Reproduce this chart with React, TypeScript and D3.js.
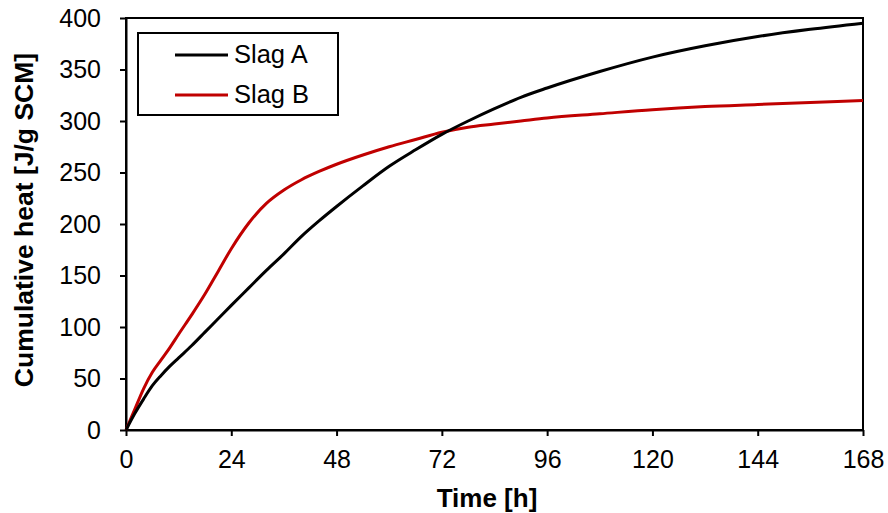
import { useEffect, useRef } from "react";
import * as d3 from "d3";

// time in hours
const time = [0, 2, 4, 6, 8, 10, 12, 15, 18, 21, 24, 28, 32, 36, 40, 44, 48, 54, 60, 66, 72, 78, 84, 90, 96, 108, 120, 132, 144, 156, 168];
const slagA = [0, 16, 30, 43, 53, 62, 70, 82, 95, 108, 121, 138, 155, 171, 188, 203, 217, 237, 256, 272, 287, 300, 312, 323, 332, 348, 362, 373, 382, 389, 395];
const slagB = [0, 20, 40, 56, 68, 80, 93, 112, 132, 154, 176, 201, 220, 233, 243, 251, 258, 267, 275, 282, 289, 294, 297, 300, 303, 307, 311, 314, 316, 318, 320];
const xTicks = [0, 24, 48, 72, 96, 120, 144, 168];
const yTicks = [0, 50, 100, 150, 200, 250, 300, 350, 400];
const seriesNames = ["Slag A", "Slag B"];
const seriesColors = ["#000000", "#c00000"];

export default function App() {
  const ref = useRef<SVGSVGElement>(null);

  useEffect(() => {
    const svg = d3.select(ref.current);
    svg.selectAll("*").remove();

    const left = 126, right = 863, top = 18, bottom = 430;
    const font = "'Liberation Sans', Arial, sans-serif";

    const x = d3.scaleLinear().domain([0, 168]).range([left, right]);
    const y = d3.scaleLinear().domain([0, 400]).range([bottom, top]);

    // frame
    svg.append("rect")
      .attr("x", left).attr("y", top)
      .attr("width", right - left).attr("height", bottom - top)
      .attr("fill", "none").attr("stroke", "#000").attr("stroke-width", 2);

    // x axis
    const gx = svg.append("g")
      .attr("transform", `translate(0,${bottom})`)
      .call(d3.axisBottom(x).tickValues(xTicks).tickSize(6).tickPadding(14).tickSizeOuter(0));
    gx.select(".domain").attr("stroke-width", 2);
    gx.selectAll(".tick line").attr("stroke-width", 2);
    gx.selectAll("text").attr("font-family", font).attr("font-size", 25).attr("fill", "#000");

    // y axis
    const gy = svg.append("g")
      .attr("transform", `translate(${left},0)`)
      .call(d3.axisLeft(y).tickValues(yTicks).tickSize(6).tickPadding(19).tickSizeOuter(0));
    gy.select(".domain").attr("stroke-width", 2);
    gy.selectAll(".tick line").attr("stroke-width", 2);
    gy.selectAll("text").attr("font-family", font).attr("font-size", 25).attr("fill", "#000");

    // axis titles
    svg.append("text")
      .attr("x", 487).attr("y", 507)
      .attr("text-anchor", "middle")
      .attr("font-family", font).attr("font-size", 26).attr("font-weight", "bold")
      .text("Time [h]");

    svg.append("text")
      .attr("transform", `translate(33,220) rotate(-90)`)
      .attr("text-anchor", "middle")
      .attr("font-family", font).attr("font-size", 26.5).attr("font-weight", "bold")
      .text("Cumulative heat [J/g SCM]");

    // lines
    const line = d3.line<number>()
      .x((_, i) => x(time[i]))
      .y((d) => y(d))
      .curve(d3.curveMonotoneX);

    [slagB, slagA].forEach((s, k) => {
      svg.append("path")
        .attr("d", line(s))
        .attr("fill", "none")
        .attr("stroke", seriesColors[1 - k])
        .attr("stroke-width", 3);
    });

    // legend
    svg.append("rect")
      .attr("x", 138).attr("y", 33).attr("width", 200).attr("height", 82)
      .attr("fill", "#fff").attr("stroke", "#000").attr("stroke-width", 2);

    seriesNames.forEach((name, i) => {
      const ly = 55 + i * 40;
      svg.append("line")
        .attr("x1", 175).attr("x2", 228).attr("y1", ly).attr("y2", ly)
        .attr("stroke", seriesColors[i]).attr("stroke-width", 3);
      svg.append("text")
        .attr("x", 234).attr("y", ly + 8)
        .attr("font-family", font).attr("font-size", 25.5)
        .text(name);
    });
  }, []);

  return (
    <svg ref={ref} width={888} height={513} style={{ position: "absolute", left: 0, top: 0 }} />
  );
}
